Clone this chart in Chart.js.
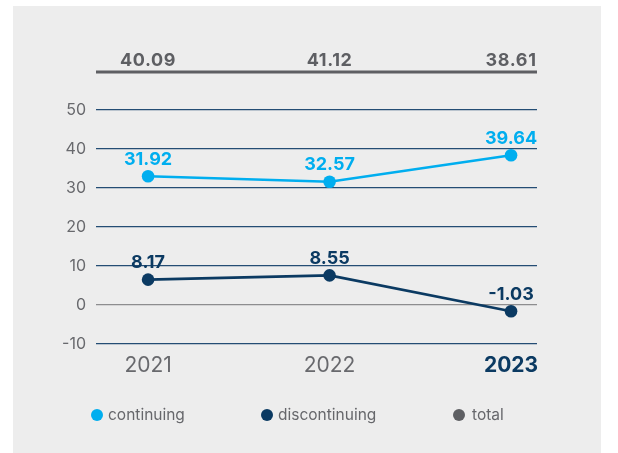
<!DOCTYPE html>
<html>
<head>
<meta charset="utf-8">
<script src="https://cdn.jsdelivr.net/npm/chart.js@4"></script>
<style>
  html, body { margin: 0; padding: 0; background: #ffffff; }
  #panel { position: absolute; left: 13px; top: 6px; width: 588px; height: 447px; background: #ededed; }
  #wrap { position: absolute; left: 0; top: 0; width: 618px; height: 453px; }
</style>
</head>
<body>
<div id="panel"></div>
<div id="wrap"><canvas id="grafico" width="618" height="453"></canvas></div>
<script>
const years = [2021, 2022, 2023];
const continuing = [33.0, 31.6, 38.4];
const discontinuing = [6.5, 7.6, -1.6];
const continuingLabels = ['31.92', '32.57', '39.64'];
const discontinuingLabels = ['8.17', '8.55', '-1.03'];
const totals = ['40.09', '41.12', '38.61'];
const legendLabels = ['continuing', 'discontinuing', 'total'];

const BLUE = '#00aeef';
const NAVY = '#0b3a62';
const GRAY = '#5e5f63';
const legendColors = [BLUE, NAVY, GRAY];

const FONT = 'Inter';

// totals row + separator line above the plot
const totalsRow = {
    id: 'totalsRow',
    afterDraw(chart) {
        const { ctx, chartArea } = chart;
        const x = chart.scales.x;
        ctx.save();
        ctx.strokeStyle = GRAY;
        ctx.lineWidth = 3;
        ctx.beginPath();
        ctx.moveTo(chartArea.left, chartArea.top - 38);
        ctx.lineTo(chartArea.right, chartArea.top - 38);
        ctx.stroke();
        ctx.fillStyle = GRAY;
        ctx.font = `bold 18px ${FONT}`;
        ctx.letterSpacing = '0.6px';
        ctx.textAlign = 'center';
        ctx.textBaseline = 'alphabetic';
        totals.forEach((t, i) => {
            ctx.fillText(t, x.getPixelForValue(years[i]), chartArea.top - 51 + 6.5);
        });
        ctx.restore();
    }
};

// value labels above the points
const pointLabels = {
    id: 'pointLabels',
    afterDatasetsDraw(chart) {
        const { ctx } = chart;
        const sets = [continuingLabels, discontinuingLabels];
        ctx.save();
        ctx.font = `bold 18px ${FONT}`;
        ctx.textAlign = 'center';
        ctx.textBaseline = 'alphabetic';
        chart.data.datasets.forEach((ds, d) => {
            chart.getDatasetMeta(d).data.forEach((pt, i) => {
                ctx.fillStyle = ds.borderColor;
                ctx.fillText(sets[d][i], pt.x, pt.y - 18 + 6.5);
            });
        });
        ctx.restore();
    }
};

// legend row at the bottom
const legendRow = {
    id: 'legendRow',
    afterDraw(chart) {
        const { ctx } = chart;
        const xs = [97, 267, 459];
        const y = 415;
        ctx.save();
        ctx.font = `15.5px ${FONT}`;
        ctx.textBaseline = 'middle';
        legendLabels.forEach((l, i) => {
            ctx.fillStyle = legendColors[i];
            ctx.beginPath();
            ctx.arc(xs[i], y, 6, 0, Math.PI * 2);
            ctx.fill();
            ctx.fillStyle = '#66676b';
            ctx.fillText(l, xs[i] + 11 + (i === 2 ? 2 : 0), y);
        });
        ctx.restore();
    }
};

new Chart(document.getElementById('grafico').getContext('2d'), {
    type: 'line',
    data: {
        datasets: [
            {
                label: 'continuing',
                data: years.map((yr, i) => ({ x: yr, y: continuing[i] })),
                borderColor: BLUE,
                backgroundColor: BLUE,
                borderWidth: 2.6,
                pointRadius: 6.3,
                pointBorderWidth: 0,
                tension: 0
            },
            {
                label: 'discontinuing',
                data: years.map((yr, i) => ({ x: yr, y: discontinuing[i] })),
                borderColor: NAVY,
                backgroundColor: NAVY,
                borderWidth: 2.6,
                pointRadius: 6.3,
                pointBorderWidth: 0,
                tension: 0
            }
        ]
    },
    options: {
        responsive: false,
        animation: false,
        maintainAspectRatio: false,
        layout: { padding: { top: 110, right: 81, bottom: 0, left: 0 } },
        plugins: {
            legend: { display: false },
            tooltip: { enabled: false }
        },
        scales: {
            x: {
                type: 'linear',
                min: 2020.713,
                max: 2023.143,
                afterBuildTicks: scale => { scale.ticks = years.map(v => ({ value: v })); },
                afterFit: scale => { scale.height = 109; },
                grid: { display: false, drawTicks: false },
                border: { display: false },
                ticks: {
                    padding: 9,
                    callback: v => String(v),
                    color: c => c.tick && c.tick.value === 2023 ? NAVY : '#68696d',
                    font: c => ({ family: FONT, size: 21, weight: c.tick && c.tick.value === 2023 ? 'bold' : 'normal' })
                }
            },
            y: {
                min: -10,
                max: 50,
                afterFit: scale => { scale.width = 96; },
                grid: {
                    drawTicks: false,
                    color: c => c.tick && c.tick.value === 0 ? '#8d8d8f' : '#244d74',
                    lineWidth: 1.2
                },
                border: { display: false },
                ticks: {
                    stepSize: 10,
                    padding: 10,
                    color: '#68696d',
                    font: { family: FONT, size: 16 }
                }
            }
        }
    },
    plugins: [totalsRow, pointLabels, legendRow]
});
</script>
</body>
</html>
